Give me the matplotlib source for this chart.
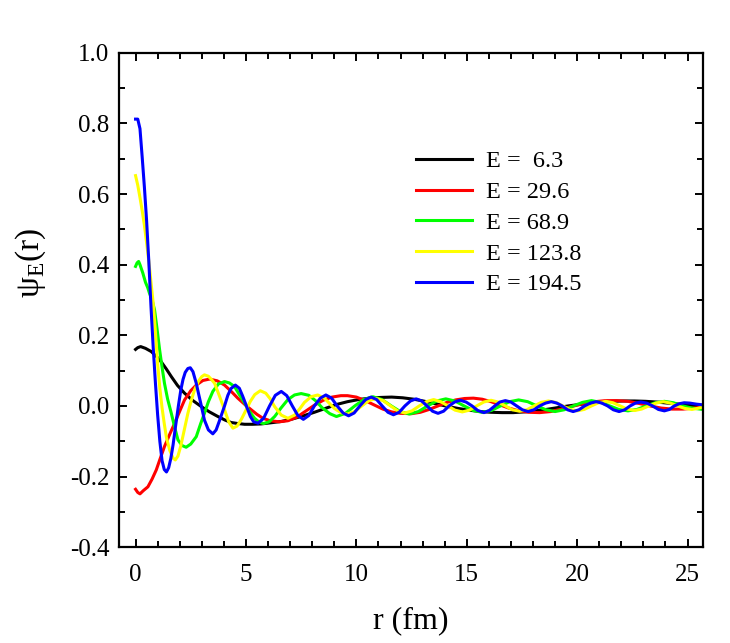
import matplotlib
matplotlib.use("Agg")
import matplotlib.pyplot as plt
from matplotlib.ticker import MultipleLocator, FormatStrFormatter

plt.rcParams['font.family'] = ['Liberation Serif', 'DejaVu Serif']
plt.rcParams['mathtext.fontset'] = 'custom'
plt.rcParams['mathtext.rm'] = 'Liberation Serif'
plt.rcParams['axes.unicode_minus'] = False

# values
labels = ["E =  6.3", "E = 29.6", "E = 68.9", "E = 123.8", "E = 194.5"]
colors = ["#000000", "#ff0000", "#00ff00", "#ffff00", "#0000ff"]

r_black = [0.0, 0.1, 0.23, 0.45, 0.71, 0.95, 1.16, 1.4, 1.62, 1.9, 2.22, 2.6, 2.98, 3.35, 3.73,
           4.05, 4.33, 4.65, 4.94, 5.3, 5.69, 6.1, 6.6, 7.1, 7.6, 8.1, 8.6, 9.1, 9.6, 10.1,
           10.6, 11.1, 11.6, 12.1, 12.6, 13.1, 13.6, 14.1, 14.6, 15.1, 15.6, 16.1, 16.6, 17.1,
           17.6, 18.1, 18.6, 19.1, 19.6, 20.1, 20.6, 21.1, 21.6, 22.1, 22.6, 23.1, 23.6, 24.1,
           24.6, 25.1, 25.7]
psi_black = [0.160, 0.165, 0.168, 0.163, 0.154, 0.140, 0.125, 0.104, 0.083, 0.058, 0.036, 0.015,
             -0.002, -0.017, -0.030, -0.040, -0.047, -0.050, -0.052, -0.052, -0.051, -0.048,
             -0.044, -0.037, -0.028, -0.018, -0.007, 0.004, 0.012, 0.018, 0.022, 0.024, 0.025,
             0.023, 0.019, 0.013, 0.006, -0.001, -0.007, -0.012, -0.016, -0.018, -0.019, -0.019,
             -0.017, -0.014, -0.010, -0.005, 0.000, 0.004, 0.008, 0.011, 0.013, 0.014, 0.014,
             0.013, 0.011, 0.008, 0.005, 0.002, -0.001]

r_red = [0.0, 0.1, 0.2, 0.35, 0.56, 0.75, 0.94, 1.1, 1.31, 1.55, 1.77, 2.0, 2.22, 2.5, 2.75, 3.05,
         3.35, 3.7, 4.03, 4.35, 4.63, 4.95, 5.24, 5.5, 5.77, 6.1, 6.5, 6.9, 7.3, 7.7, 8.1, 8.5,
         8.9, 9.3, 9.6, 10.0, 10.4, 10.8, 11.2, 11.6, 12.0, 12.5, 12.9, 13.3, 13.7, 14.1, 14.5,
         14.9, 15.3, 15.7, 16.1, 16.5, 16.9, 17.3, 17.8, 18.3, 18.8, 19.3, 19.8, 20.3, 20.8,
         21.3, 21.8, 22.3, 22.8, 23.3, 23.8, 24.3, 24.8, 25.3, 25.7]
psi_red = [-0.236, -0.245, -0.249, -0.240, -0.229, -0.207, -0.181, -0.152, -0.115, -0.080,
           -0.049, -0.015, 0.017, 0.043, 0.059, 0.072, 0.076, 0.071, 0.059, 0.040, 0.022, 0.004,
           -0.011, -0.024, -0.035, -0.042, -0.045, -0.042, -0.032, -0.015, 0.002, 0.016, 0.025,
           0.029, 0.029, 0.025, 0.015, 0.003, -0.009, -0.017, -0.021, -0.022, -0.018, -0.010,
           0.000, 0.010, 0.017, 0.021, 0.022, 0.019, 0.012, 0.003, -0.006, -0.013, -0.018,
           -0.019, -0.016, -0.009, -0.001, 0.007, 0.012, 0.015, 0.015, 0.013, 0.007, 0.000,
           -0.006, -0.009, -0.009, -0.006, -0.003]

r_green = [0.0, 0.07, 0.14, 0.2, 0.33, 0.45, 0.55, 0.63, 0.75, 0.86, 0.97, 1.09, 1.2, 1.31, 1.45,
           1.62, 1.77, 1.92, 2.1, 2.29, 2.5, 2.75, 2.95, 3.12, 3.3, 3.5, 3.75, 4.03, 4.25, 4.48,
           4.7, 4.94, 5.15, 5.39, 5.6, 5.8, 6.05, 6.3, 6.6, 6.9, 7.2, 7.5, 7.85, 8.15, 8.45, 8.8,
           9.1, 9.51, 9.93, 10.34, 10.75, 11.16, 11.58, 11.99, 12.4, 12.81, 13.23, 13.64, 14.05,
           14.46, 14.88, 15.29, 15.7, 16.11, 16.53, 16.94, 17.35, 17.76, 18.18, 18.59, 19.0,
           19.41, 19.83, 20.24, 20.65, 21.06, 21.48, 21.89, 22.3, 22.71, 23.13, 23.54, 23.95,
           24.36, 24.78, 25.19, 25.7]
psi_green = [0.395, 0.405, 0.409, 0.400, 0.376, 0.350, 0.335, 0.319, 0.300, 0.272, 0.220, 0.159,
             0.110, 0.064, 0.020, -0.021, -0.060, -0.096, -0.112, -0.117, -0.108, -0.087, -0.050,
             -0.021, 0.012, 0.041, 0.062, 0.069, 0.065, 0.055, 0.032, 0.008, -0.015, -0.035,
             -0.046, -0.050, -0.045, -0.030, -0.005, 0.018, 0.031, 0.035, 0.030, 0.015, -0.005,
             -0.022, -0.030, -0.021, 0.000, 0.018, 0.026, 0.018, 0.000, -0.016, -0.023, -0.016,
             0.000, 0.014, 0.020, 0.014, 0.000, -0.013, -0.018, -0.013, 0.000, 0.012, 0.017,
             0.012, 0.000, -0.011, -0.016, -0.011, 0.000, 0.010, 0.015, 0.010, 0.000, -0.010,
             -0.014, -0.010, 0.000, 0.009, 0.013, 0.009, 0.000, -0.006, -0.010]

r_yellow = [0.0, 0.1, 0.2, 0.3, 0.4, 0.5, 0.6, 0.7, 0.8, 0.9, 1.0, 1.1, 1.2, 1.3, 1.4, 1.55, 1.7,
            1.8, 1.92, 2.05, 2.2, 2.37, 2.52, 2.67, 2.85, 3.0, 3.12, 3.3, 3.45, 3.58, 3.8, 4.03,
            4.22, 4.41, 4.6, 4.8, 5.0, 5.2, 5.4, 5.65, 5.9, 6.1, 6.3, 6.6, 6.9, 7.2, 7.45, 7.65,
            7.95, 8.25, 8.55, 8.8, 9.0, 9.3, 9.6, 9.92, 10.25, 10.57, 10.9, 11.22, 11.55, 11.87,
            12.2, 12.52, 12.85, 13.17, 13.5, 13.82, 14.15, 14.47, 14.8, 15.12, 15.45, 15.77,
            16.1, 16.42, 16.75, 17.07, 17.4, 17.72, 18.05, 18.37, 18.7, 19.02, 19.35, 19.67,
            20.0, 20.32, 20.65, 20.97, 21.3, 21.62, 21.95, 22.27, 22.6, 22.92, 23.25, 23.57,
            23.9, 24.22, 24.55, 24.87, 25.2, 25.45, 25.7]
psi_yellow = [0.652, 0.625, 0.590, 0.553, 0.512, 0.462, 0.410, 0.350, 0.290, 0.210, 0.120, 0.050,
              -0.005, -0.050, -0.090, -0.126, -0.148, -0.153, -0.142, -0.113, -0.070, -0.021,
              0.015, 0.045, 0.070, 0.083, 0.088, 0.084, 0.074, 0.064, 0.028, -0.011, -0.045,
              -0.063, -0.057, -0.037, -0.012, 0.013, 0.032, 0.043, 0.036, 0.020, -0.002, -0.026,
              -0.035, -0.026, -0.007, 0.010, 0.026, 0.031, 0.022, 0.006, -0.007, -0.019, -0.023,
              -0.016, 0.000, 0.015, 0.021, 0.015, 0.000, -0.014, -0.020, -0.014, 0.000, 0.012,
              0.018, 0.012, 0.000, -0.012, -0.017, -0.012, 0.000, 0.011, 0.016, 0.011, 0.000,
              -0.011, -0.015, -0.011, 0.000, 0.010, 0.014, 0.010, 0.000, -0.010, -0.014, -0.010,
              0.000, 0.009, 0.013, 0.009, 0.000, -0.009, -0.013, -0.009, 0.000, 0.008, 0.012,
              0.008, 0.000, -0.007, -0.010, -0.007, -0.003]

r_blue = [0.0, 0.1, 0.2, 0.3, 0.4, 0.5, 0.6, 0.7, 0.8, 0.9, 1.0, 1.1, 1.2, 1.3, 1.4, 1.5, 1.6,
          1.7, 1.8, 1.94, 2.05, 2.15, 2.25, 2.37, 2.48, 2.6, 2.75, 2.87, 2.98, 3.12, 3.3, 3.5,
          3.65, 3.8, 4.03, 4.18, 4.32, 4.52, 4.7, 4.85, 5.02, 5.2, 5.35, 5.55, 5.8, 6.07, 6.33,
          6.6, 6.85, 7.1, 7.35, 7.6, 7.85, 8.1, 8.37, 8.62, 8.88, 9.13, 9.4, 9.65, 9.9, 10.16,
          10.42, 10.67, 10.92, 11.17, 11.43, 11.68, 11.94, 12.2, 12.45, 12.71, 12.96, 13.2,
          13.45, 13.7, 13.95, 14.2, 14.45, 14.7, 14.97, 15.24, 15.5, 15.78, 16.02, 16.27, 16.5,
          16.75, 17.0, 17.26, 17.52, 17.78, 18.04, 18.3, 18.57, 18.83, 19.08, 19.32, 19.57,
          19.82, 20.08, 20.34, 20.6, 20.86, 21.12, 21.38, 21.64, 21.9, 22.15, 22.4, 22.64,
          22.88, 23.15, 23.42, 23.68, 23.95, 24.18, 24.4, 24.62, 24.85, 25.1, 25.4, 25.7]
psi_blue = [0.812, 0.812, 0.785, 0.705, 0.620, 0.525, 0.410, 0.280, 0.165, 0.065, -0.025, -0.100,
            -0.155, -0.180, -0.187, -0.175, -0.148, -0.110, -0.063, 0.000, 0.045, 0.075, 0.095,
            0.106, 0.108, 0.097, 0.064, 0.030, 0.000, -0.040, -0.068, -0.079, -0.068, -0.042,
            0.000, 0.030, 0.049, 0.059, 0.050, 0.028, 0.000, -0.030, -0.045, -0.049, -0.035,
            0.000, 0.030, 0.041, 0.029, 0.000, -0.027, -0.038, -0.027, 0.000, 0.022, 0.031,
            0.022, 0.000, -0.020, -0.028, -0.020, 0.000, 0.018, 0.025, 0.018, 0.000, -0.018,
            -0.025, -0.018, 0.000, 0.014, 0.020, 0.014, 0.000, -0.015, -0.021, -0.015, 0.000,
            0.011, 0.016, 0.011, 0.000, -0.013, -0.019, -0.013, 0.000, 0.011, 0.015, 0.011,
            0.000, -0.011, -0.016, -0.011, 0.000, 0.008, 0.012, 0.008, 0.000, -0.011, -0.016,
            -0.011, 0.000, 0.008, 0.012, 0.008, 0.000, -0.011, -0.016, -0.011, 0.000, 0.008,
            0.011, 0.008, 0.000, -0.010, -0.014, -0.010, 0.000, 0.006, 0.009, 0.008, 0.005,
            0.003]

series = [(r_black, psi_black), (r_red, psi_red), (r_green, psi_green),
          (r_yellow, psi_yellow), (r_blue, psi_blue)]

fig = plt.figure(figsize=(7.3, 6.43), dpi=100)
ax = fig.add_axes([0.163, 0.149, 0.8, 0.769])

for (r, psi), c, lab in zip(series, colors, labels):
    ax.plot(r, psi, color=c, lw=2.2, label=lab)

ax.set_xlim(-0.75, 25.7)
ax.set_ylim(-0.4, 1.0)
ax.xaxis.set_major_locator(MultipleLocator(5))
ax.xaxis.set_minor_locator(MultipleLocator(1))
ax.yaxis.set_major_locator(MultipleLocator(0.2))
ax.yaxis.set_minor_locator(MultipleLocator(0.1))
ax.yaxis.set_major_formatter(FormatStrFormatter('%.1f'))

for s in ax.spines.values():
    s.set_linewidth(1.6)
ax.tick_params(which='both', direction='in', top=True, right=True, width=1.4, labelsize=18)
ax.tick_params(which='major', length=6)
ax.tick_params(which='minor', length=4)
ax.tick_params(axis='x', pad=12)
ax.tick_params(axis='y', pad=7)

ax.set_xlabel('r (fm)', fontsize=23, labelpad=15)
ax.set_ylabel(r'ψ$_\mathrm{E}$(r)', fontsize=24)
ax.yaxis.set_label_coords(-0.122, 0.575)

ax.legend(loc='center left', bbox_to_anchor=(0.508, 0.656), frameon=False, fontsize=17.5,
          handlelength=2.3, handletextpad=0.6, labelspacing=0.36, borderpad=0, borderaxespad=0)

fig.savefig('out.png', dpi=100)
